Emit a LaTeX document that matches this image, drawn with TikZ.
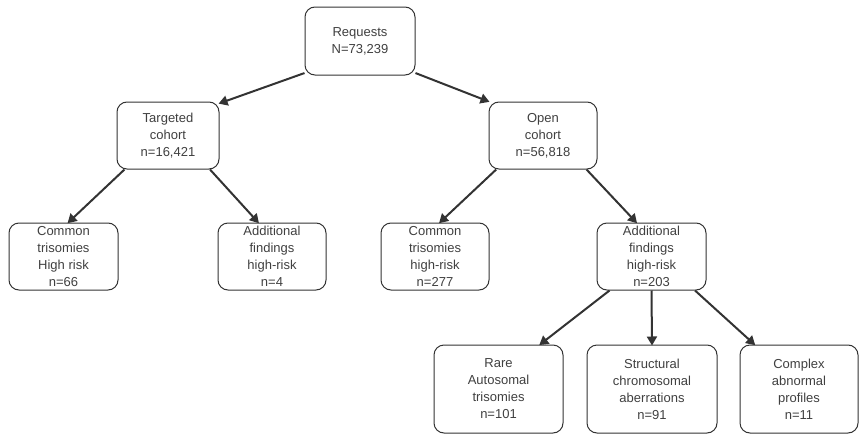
\documentclass[tikz,border=0pt]{standalone}
\usepackage{fontspec}
\setmainfont{Liberation Sans}
\usetikzlibrary{arrows.meta}
\definecolor{txt}{HTML}{404040}
\definecolor{edge}{HTML}{333333}
\tikzset{
  box/.style={draw=edge, line width=1pt, rounded corners=10pt, fill=white,
    text=txt, align=center, inner sep=0pt,
    font=\fontsize{13}{17}\selectfont},
  smallbox/.style={box, minimum height=67pt},
  bigbox/.style={box, minimum height=88pt},
  arr/.style={draw=edge, line width=2pt, -{Triangle[length=9pt,width=10pt]}, shorten >=-1pt}
}
\begin{document}
\begin{tikzpicture}[x=1pt,y=-1pt]
\useasboundingbox (0,0) rectangle (859,439);
\node[box, minimum width=110pt, minimum height=68pt] (req) at (360,41) {Requests\\N=73,239};
\node[smallbox, minimum width=102pt] (tc) at (168,135.5) {Targeted\\cohort\\n=16,421};
\node[smallbox, minimum width=108pt] (oc) at (543,135.5) {Open\\cohort\\n=56,818};
\node[smallbox, minimum width=109pt] (tct) at (63.5,256.5) {Common\\trisomies\\High risk\\n=66};
\node[smallbox, minimum width=108pt] (taf) at (272,256.5) {Additional\\findings\\high-risk\\n=4};
\node[smallbox, minimum width=108pt] (oct) at (435,256.5) {Common\\trisomies\\high-risk\\n=277};
\node[smallbox, minimum width=109pt] (oaf) at (651.5,256.5) {Additional\\findings\\high-risk\\n=203};
\node[bigbox, minimum width=129pt] (rat) at (498.5,389) {Rare\\Autosomal\\trisomies\\n=101};
\node[bigbox, minimum width=130pt] (sca) at (652,389) {Structural\\chromosomal\\aberrations\\n=91};
\node[bigbox, minimum width=118pt] (cap) at (799,389) {Complex\\abnormal\\profiles\\n=11};
\draw[arr] (req.210) -- (tc.32);
\draw[arr] (req.-30) -- (oc.148);
\draw[arr] (tc.218) -- (tct.82);
\draw[arr] (tc.321) -- (taf.112);
\draw[arr] (oc.216) -- (oct.82);
\draw[arr] (oc.322) -- (oaf.114);
\draw[arr] (oaf.219) -- (rat.47);
\draw[arr] (oaf.south) -- (sca.north);
\draw[arr] (oaf.-38) -- (cap.135);
\end{tikzpicture}
\end{document}
